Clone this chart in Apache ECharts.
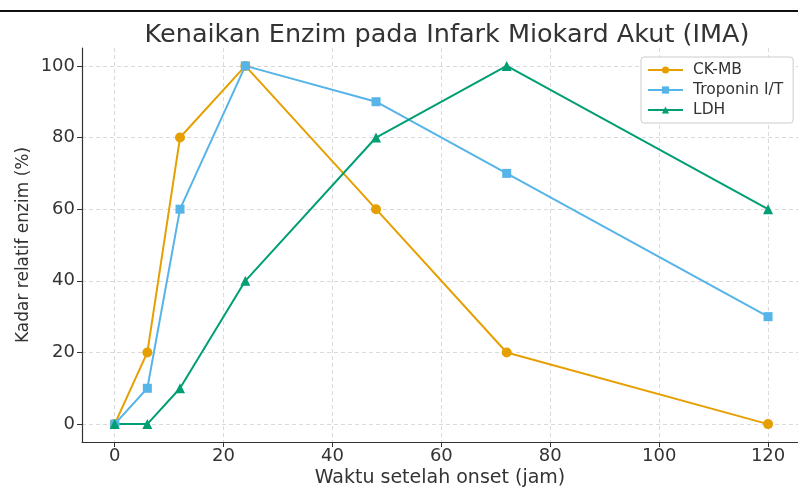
<!DOCTYPE html>
<html><head><meta charset="utf-8">
<script src="https://cdn.jsdelivr.net/npm/echarts@6/dist/echarts.min.js"></script>
<style>html,body{margin:0;padding:0;background:#fff}#c{width:798px;height:487px}</style>
</head><body><div id="c"></div>
<script>
const hours = [0, 6, 12, 24, 48, 72, 120];
const ckmb = [0, 20, 80, 100, 60, 20, 0];
const troponin = [0, 10, 60, 100, 90, 70, 30];
const ldh = [0, 0, 10, 40, 80, 100, 60];
const xTicks = [0, 20, 40, 60, 80, 100, 120];
const yTicks = [0, 20, 40, 60, 80, 100];

const font = 'DejaVu Sans';
const chart = echarts.init(document.getElementById('c'));
const mk = (name, vals, color, symbol, size) => ({
  name, type: 'line', data: hours.map((h, i) => [h, vals[i]]),
  symbol, symbolSize: size, showSymbol: true,
  lineStyle: { color, width: 2 }, itemStyle: { color },
  emphasis: { disabled: true }, animation: false, z: 3
});
chart.setOption({
  animation: false,
  title: { text: 'Kenaikan Enzim pada Infark Miokard Akut (IMA)', left: 442, textAlign: 'center', top: 17,
    textStyle: { fontFamily: font, fontSize: 25.5, fontWeight: 'normal', color: '#333' } },
  legend: { orient: 'vertical', left: 641, top: 57, itemWidth: 35, itemHeight: 9, itemGap: 4,
    padding: [5, 10, 5, 6], borderColor: '#ccc', borderWidth: 1, borderRadius: 3, backgroundColor: '#fff',
    textStyle: { fontFamily: font, fontSize: 15.5, color: '#333', padding: [0, 0, 0, 5] },
    data: ['CK-MB', 'Troponin I/T', 'LDH'] },
  grid: { left: 82, top: 48, width: 716, height: 394, containLabel: false, outerBoundsMode: 'none' },
  xAxis: { type: 'value', min: -6, max: 125.5,
    name: 'Waktu setelah onset (jam)', nameLocation: 'middle', nameGap: 27, nameMoveOverlap: false,
    nameTextStyle: { fontFamily: font, fontSize: 19, color: '#333' },
    axisLine: { onZero: false, lineStyle: { color: '#333', width: 1.2 } },
    axisTick: { show: true, length: 5, customValues: xTicks, lineStyle: { color: '#333' } },
    axisLabel: { customValues: xTicks, fontFamily: font, fontSize: 18, color: '#333', margin: 5 },
    splitLine: { show: true, lineStyle: { color: '#d0d0d0', type: [4, 3], width: 0.8 } } },
  yAxis: { type: 'value', min: -5, max: 105,
    name: 'Kadar relatif enzim (%)', nameLocation: 'middle', nameGap: 50, nameMoveOverlap: false,
    nameTextStyle: { fontFamily: font, fontSize: 17, color: '#333' },
    axisLine: { show: true, onZero: false, lineStyle: { color: '#333', width: 1.2 } },
    axisTick: { show: true, length: 5, customValues: yTicks, lineStyle: { color: '#333' } },
    axisLabel: { customValues: yTicks, fontFamily: font, fontSize: 18, color: '#333', margin: 7 },
    splitLine: { show: true, lineStyle: { color: '#d0d0d0', type: [4, 3], width: 0.8 } } },
  graphic: [{ type: 'rect', shape: { x: 0, y: 10, width: 798, height: 2 }, style: { fill: '#111' } }],
  series: [
    mk('CK-MB', ckmb, '#E69F00', 'circle', 10),
    mk('Troponin I/T', troponin, '#56B4E9', 'rect', 9),
    mk('LDH', ldh, '#009E73', 'triangle', 10)
  ]
});
</script></body></html>
